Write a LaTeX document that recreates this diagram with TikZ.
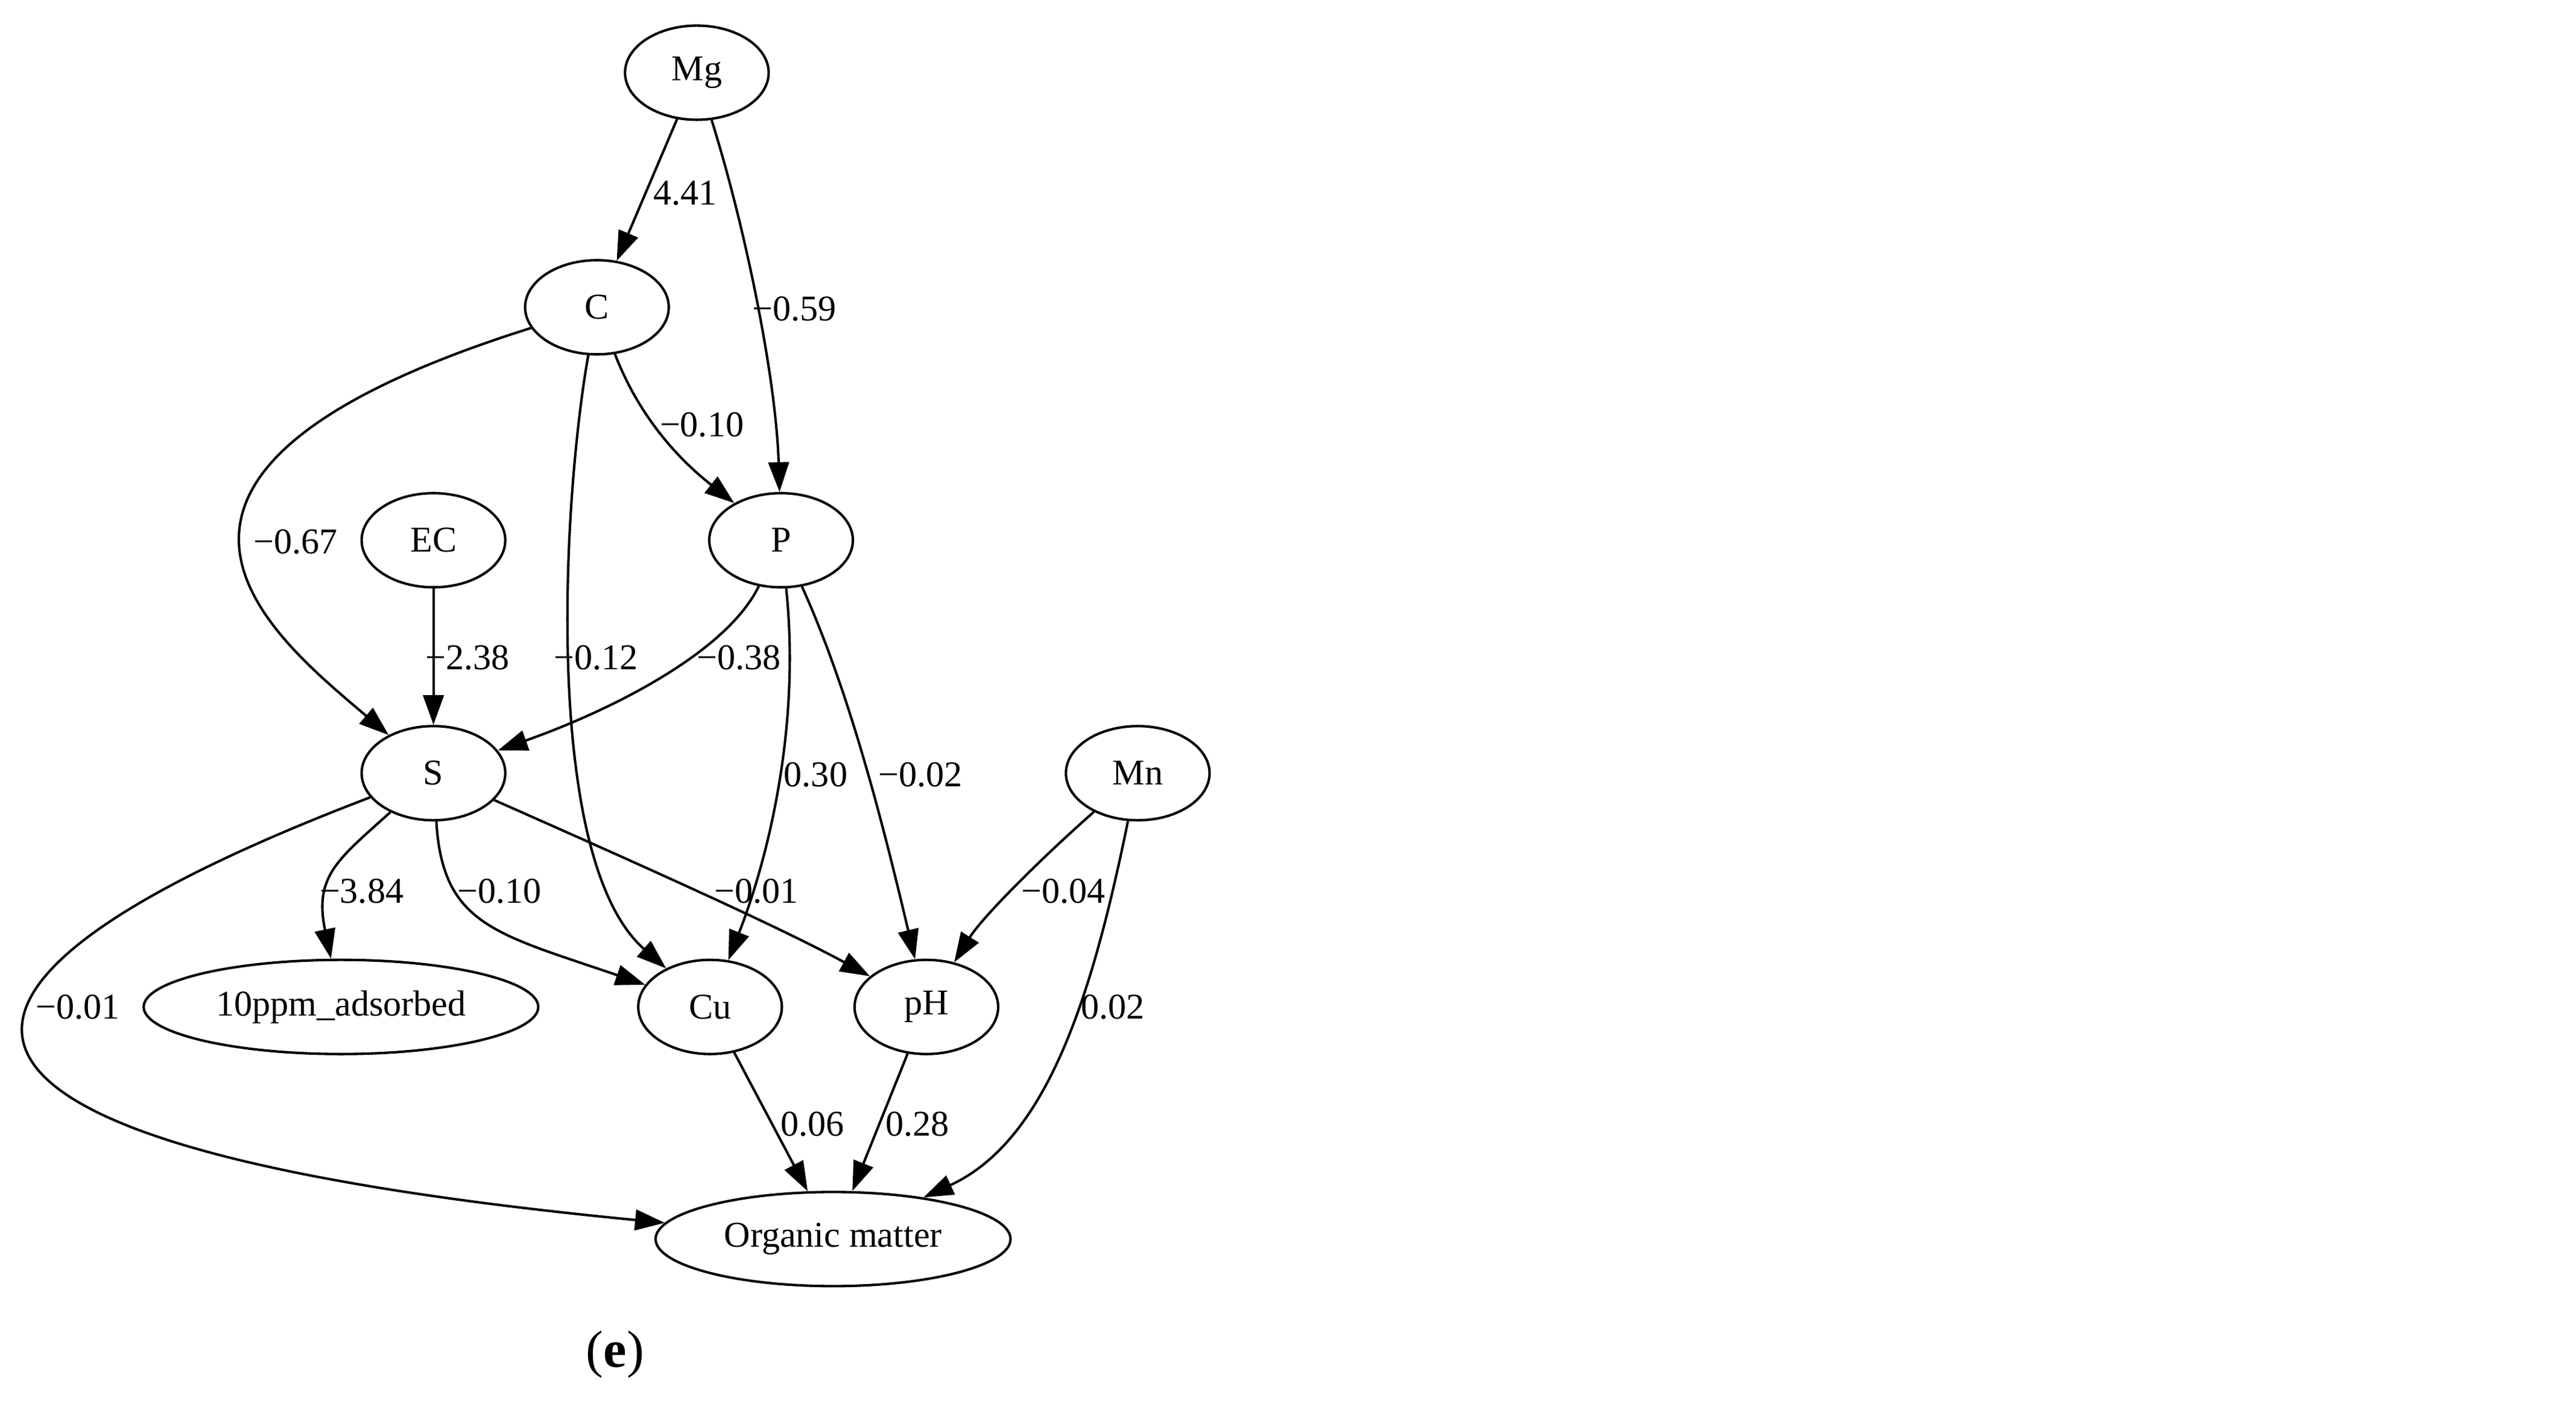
\documentclass[tikz,border=0pt]{standalone}
\usepackage{fontspec}
\setmainfont{Liberation Serif}
\usetikzlibrary{shapes.geometric, arrows.meta}
\tikzstyle{factor} = [ellipse, minimum width=1.74cm, minimum height=1.14cm, inner sep=0pt, text centered, draw=black, line width=0.85pt, fill=white]
\tikzstyle{coef} = [inner sep=0pt, text=black]
\tikzstyle{flow} = [line width=0.85pt,-{Triangle[length=3.6mm,width=2.5mm]}]

\begin{document}
\begin{tikzpicture}[x=0.02cm, y=-0.02cm, font=\fontsize{12.5}{15}\selectfont]
		\useasboundingbox (0,0) rectangle (1560,851);
		\node (mg) [factor] at (422,44) {Mg};
		\node (c) [factor] at (361.5,186) {C};
		\node (ec) [factor] at (262.5,327) {EC};
		\node (p) [factor] at (473,327) {P};
		\node (s) [factor] at (262.5,468) {S};
		\node (mn) [factor] at (689,468) {Mn};
		\node (ads) [factor, minimum width=4.78cm] at (206.5,609.5) {10ppm\_adsorbed};
		\node (cu) [factor] at (430,609.5) {Cu};
		\node (ph) [factor] at (561,609.5) {pH};
		\node (om) [factor, minimum width=4.3cm] at (504.5,750) {Organic matter};

		\draw [flow] (mg) -- (c);
		\draw [flow] (mg) .. controls (452,140) and (470,230) .. (p);
		\draw [flow] (c) .. controls (390,260) and (420,285) .. (p);
		\draw [flow] (c) .. controls (40,287) and (165,385) .. (s);
		\draw [flow] (c) .. controls (341,300) and (328,520) .. (cu);
		\draw [flow] (ec) -- (s);
		\draw [flow] (p) .. controls (440,395) and (370,430) .. (s);
		\draw [flow] (p) .. controls (485,440) and (465,520) .. (cu);
		\draw [flow] (p) .. controls (515,420) and (535,500) .. (ph);
		\draw [flow] (s) .. controls (205,520) and (190,530) .. (ads);
		\draw [flow] (s) .. controls (268,560) and (300,565) .. (cu);
		\draw [flow] (s) .. controls (380,520) and (470,560) .. (ph);
		\draw [flow] (s) .. controls (45,551) and (-210,681) .. (om);
		\draw [flow] (mn) .. controls (630,520) and (595,555) .. (ph);
		\draw [flow] (mn) .. controls (662,600) and (635,690) .. (om);
		\draw [flow] (cu) -- (om);
		\draw [flow] (ph) -- (om);

		\node (w1) [coef] at (415,117) {4.41};
		\node (w2) [coef] at (481,187) {−0.59};
		\node (w3) [coef] at (425,257) {−0.10};
		\node (w4) [coef] at (179,328) {−0.67};
		\node (w5) [coef] at (283,398) {−2.38};
		\node (w6) [coef] at (361,398) {−0.12};
		\node (w7) [coef] at (447.5,398) {−0.38};
		\node (w8) [coef] at (494,469) {0.30};
		\node (w9) [coef] at (557.5,469) {−0.02};
		\node (w10) [coef] at (219,539.5) {−3.84};
		\node (w11) [coef] at (302.5,539.5) {−0.10};
		\node (w12) [coef] at (458,539.5) {−0.01};
		\node (w13) [coef] at (644,539.5) {−0.04};
		\node (w14) [coef] at (47,609.5) {−0.01};
		\node (w15) [coef] at (674,609.5) {0.02};
		\node (w16) [coef] at (492,680.5) {0.06};
		\node (w17) [coef] at (555.5,680.5) {0.28};

		\node (tag) [coef, font=\fontsize{18}{20}\selectfont] at (372.5,820) {(\textbf{e})};
	  \end{tikzpicture}
\end{document}
